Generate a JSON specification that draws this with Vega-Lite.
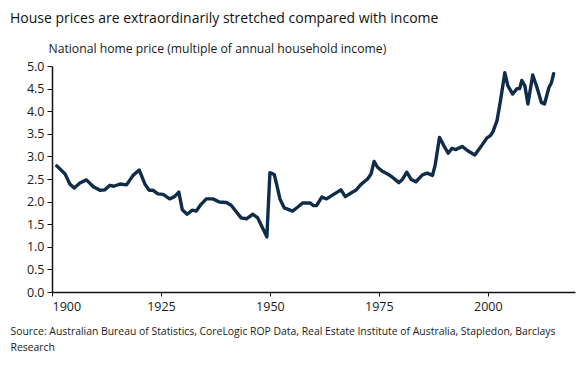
{
  "$schema": "https://vega.github.io/schema/vega-lite/v6.json",
  "autosize": "none",
  "width": 523,
  "height": 226,
  "padding": {"left": 52, "top": 66, "right": 9, "bottom": 75},
  "background": "white",
  "config": {
    "view": {"stroke": null},
    "font": "Open Sans"
  },
  "title": {
    "text": "House prices are extraordinarily stretched compared with income",
    "anchor": "start",
    "frame": "group",
    "dx": -42,
    "fontSize": 14,
    "fontWeight": "normal",
    "color": "#111111",
    "font": "Open Sans",
    "offset": 16
  },
  "data": {
    "values": [
      {"year": 1901.1, "ratio": 2.79},
      {"year": 1903.0, "ratio": 2.61},
      {"year": 1904.1, "ratio": 2.39},
      {"year": 1905.1, "ratio": 2.30},
      {"year": 1906.4, "ratio": 2.41},
      {"year": 1907.9, "ratio": 2.48},
      {"year": 1909.5, "ratio": 2.33},
      {"year": 1911.0, "ratio": 2.25},
      {"year": 1912.1, "ratio": 2.26},
      {"year": 1913.3, "ratio": 2.36},
      {"year": 1914.2, "ratio": 2.34},
      {"year": 1915.6, "ratio": 2.39},
      {"year": 1917.1, "ratio": 2.37},
      {"year": 1918.6, "ratio": 2.58},
      {"year": 1920.0, "ratio": 2.70},
      {"year": 1921.3, "ratio": 2.39},
      {"year": 1922.3, "ratio": 2.25},
      {"year": 1923.2, "ratio": 2.25},
      {"year": 1924.3, "ratio": 2.17},
      {"year": 1925.5, "ratio": 2.16},
      {"year": 1927.0, "ratio": 2.06},
      {"year": 1928.1, "ratio": 2.11},
      {"year": 1929.1, "ratio": 2.21},
      {"year": 1929.9, "ratio": 1.82},
      {"year": 1931.0, "ratio": 1.72},
      {"year": 1932.2, "ratio": 1.81},
      {"year": 1933.1, "ratio": 1.79},
      {"year": 1934.2, "ratio": 1.94},
      {"year": 1935.4, "ratio": 2.06},
      {"year": 1936.9, "ratio": 2.06},
      {"year": 1938.4, "ratio": 1.99},
      {"year": 1940.0, "ratio": 1.98},
      {"year": 1941.1, "ratio": 1.92},
      {"year": 1942.0, "ratio": 1.81},
      {"year": 1943.4, "ratio": 1.64},
      {"year": 1944.6, "ratio": 1.62},
      {"year": 1946.1, "ratio": 1.72},
      {"year": 1947.2, "ratio": 1.64},
      {"year": 1948.2, "ratio": 1.44},
      {"year": 1949.3, "ratio": 1.22},
      {"year": 1950.0, "ratio": 2.64},
      {"year": 1951.0, "ratio": 2.60},
      {"year": 1951.6, "ratio": 2.36},
      {"year": 1952.3, "ratio": 2.06},
      {"year": 1953.3, "ratio": 1.86},
      {"year": 1955.2, "ratio": 1.79},
      {"year": 1956.4, "ratio": 1.88},
      {"year": 1957.5, "ratio": 1.97},
      {"year": 1959.2, "ratio": 1.97},
      {"year": 1960.0, "ratio": 1.91},
      {"year": 1960.7, "ratio": 1.91},
      {"year": 1961.9, "ratio": 2.10},
      {"year": 1963.0, "ratio": 2.06},
      {"year": 1964.8, "ratio": 2.17},
      {"year": 1966.3, "ratio": 2.26},
      {"year": 1967.3, "ratio": 2.11},
      {"year": 1968.6, "ratio": 2.19},
      {"year": 1969.7, "ratio": 2.25},
      {"year": 1970.9, "ratio": 2.38},
      {"year": 1972.4, "ratio": 2.50},
      {"year": 1973.2, "ratio": 2.61},
      {"year": 1973.9, "ratio": 2.89},
      {"year": 1974.7, "ratio": 2.76},
      {"year": 1975.8, "ratio": 2.67},
      {"year": 1977.0, "ratio": 2.61},
      {"year": 1978.1, "ratio": 2.54},
      {"year": 1979.6, "ratio": 2.42},
      {"year": 1980.4, "ratio": 2.49},
      {"year": 1981.4, "ratio": 2.65},
      {"year": 1982.4, "ratio": 2.49},
      {"year": 1983.5, "ratio": 2.44},
      {"year": 1985.0, "ratio": 2.59},
      {"year": 1986.1, "ratio": 2.63},
      {"year": 1987.3, "ratio": 2.58},
      {"year": 1987.9, "ratio": 2.80},
      {"year": 1988.9, "ratio": 3.42},
      {"year": 1989.9, "ratio": 3.24},
      {"year": 1990.9, "ratio": 3.07},
      {"year": 1991.8, "ratio": 3.18},
      {"year": 1992.6, "ratio": 3.15},
      {"year": 1994.1, "ratio": 3.22},
      {"year": 1995.3, "ratio": 3.13},
      {"year": 1997.0, "ratio": 3.03},
      {"year": 1998.3, "ratio": 3.20},
      {"year": 1999.8, "ratio": 3.41},
      {"year": 2000.6, "ratio": 3.46},
      {"year": 2001.2, "ratio": 3.55},
      {"year": 2002.1, "ratio": 3.79},
      {"year": 2002.9, "ratio": 4.23},
      {"year": 2003.9, "ratio": 4.85},
      {"year": 2004.6, "ratio": 4.56},
      {"year": 2005.7, "ratio": 4.38},
      {"year": 2006.7, "ratio": 4.50},
      {"year": 2007.3, "ratio": 4.50},
      {"year": 2007.8, "ratio": 4.68},
      {"year": 2008.5, "ratio": 4.56},
      {"year": 2009.2, "ratio": 4.16},
      {"year": 2010.3, "ratio": 4.80},
      {"year": 2011.3, "ratio": 4.52},
      {"year": 2012.3, "ratio": 4.19},
      {"year": 2013.0, "ratio": 4.16},
      {"year": 2014.0, "ratio": 4.52},
      {"year": 2014.6, "ratio": 4.63},
      {"year": 2015.1, "ratio": 4.83}
    ]
  },
  "mark": {"type": "line", "color": "#0f2d4a", "strokeWidth": 3.4, "strokeJoin": "round", "strokeCap": "round"},
  "encoding": {
    "x": {
      "field": "year",
      "type": "quantitative",
      "scale": {"domain": [1900, 2020], "nice": false, "zero": false},
      "axis": {
        "values": [1900, 1925, 1950, 1975, 2000],
        "format": "d",
        "grid": false,
        "domainColor": "#111111",
        "domainWidth": 1.5,
        "tickColor": "#111111",
        "tickSize": 4,
        "labelFontSize": 12.5,
        "labelColor": "#1a1a1a",
        "labelPadding": 4,
        "labelFont": "Open Sans",
        "title": ["Source: Australian Bureau of Statistics, CoreLogic ROP Data, Real Estate Institute of Australia, Stapledon, Barclays", "Research"],
        "titleFont": "Open Sans",
        "titleFontSize": 10.4,
        "titleFontWeight": "normal",
        "titleColor": "#1a1a1a",
        "titleAnchor": "start",
        "titleAlign": "left",
        "titleBaseline": "alphabetic",
        "titleX": -42,
        "titleY": 42,
        "titleLineHeight": 16
      }
    },
    "y": {
      "field": "ratio",
      "type": "quantitative",
      "scale": {"domain": [0, 5], "nice": false},
      "axis": {
        "values": [0, 0.5, 1, 1.5, 2, 2.5, 3, 3.5, 4, 4.5, 5],
        "format": ".1f",
        "grid": false,
        "domainColor": "#111111",
        "domainWidth": 1.5,
        "tickColor": "#111111",
        "tickSize": 5,
        "labelFontSize": 12.5,
        "labelColor": "#1a1a1a",
        "labelPadding": 3,
        "labelFont": "Open Sans",
        "title": "National home price (multiple of annual household income)",
        "titleFont": "Open Sans",
        "titleFontSize": 12.2,
        "titleFontWeight": "normal",
        "titleColor": "#1a1a1a",
        "titleAngle": 0,
        "titleAlign": "left",
        "titleBaseline": "alphabetic",
        "titleX": -4,
        "titleY": -14
      }
    }
  }
}
